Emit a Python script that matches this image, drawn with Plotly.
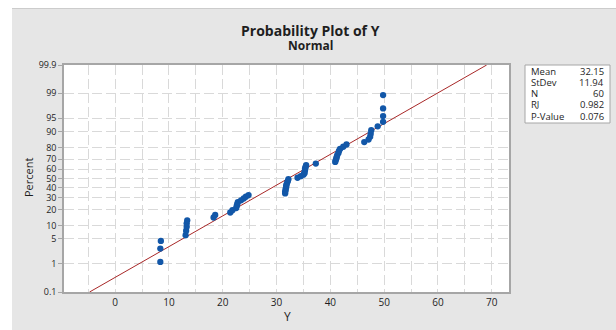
import plotly.graph_objects as go
from statistics import NormalDist

Y_VALUES = [
    8.4, 8.4, 8.5,
    13.1, 13.2, 13.3, 13.3, 13.4,
    18.3, 18.6,
    21.4, 21.8, 22.5, 22.6, 22.7, 22.8, 23.4, 23.9, 24.3, 24.8,
    31.6, 31.6, 31.7, 31.7, 31.8, 31.8, 31.9, 32.0, 32.1, 32.2,
    33.9, 34.5, 35.0, 35.2, 35.2, 35.3, 35.3, 35.4, 35.5,
    37.3,
    40.9, 41.0, 41.1, 41.2, 41.3, 41.5, 41.6, 41.8, 42.4, 43.0,
    46.3, 47.1, 47.4, 47.5, 47.6, 48.8,
    49.8, 49.8, 49.8, 49.8,
]
MEAN = 32.15
STDEV = 11.94
N = 60
RJ = 0.982
P_VALUE = 0.076

PCT_TICKS = [0.1, 1, 5, 10, 20, 30, 40, 50, 60, 70, 80, 90, 95, 99, 99.9]
PCT_LABELS = ["0.1", "1", "5", "10", "20", "30", "40", "50", "60", "70",
              "80", "90", "95", "99", "99.9"]
X_TICKS = [-5, 0, 5, 10, 15, 20, 25, 30, 35, 40, 45, 50, 55, 60, 65, 70]
X_LABELS = ["", "0", "", "10", "", "20", "", "30", "", "40", "", "50", "", "60", "", "70"]

STAT_NAMES = ["Mean", "StDev", "N", "RJ", "P-Value"]
STAT_VALUES = [f"{MEAN:.2f}", f"{STDEV:.2f}", f"{N}", f"{RJ:.3f}", f"{P_VALUE:.3f}"]

nd = NormalDist()
n = len(Y_VALUES)
# Median-rank (Benard) plotting positions -> normal scores
z_points = [nd.inv_cdf((i - 0.3) / (n + 0.4)) for i in range(1, n + 1)]
z_ticks = [nd.inv_cdf(p / 100.0) for p in PCT_TICKS]
z_lo, z_hi = z_ticks[0], z_ticks[-1]

W, H = 616, 330
L, R, T, B = 64, 107, 65, 38
PW, PH = W - L - R, H - T - B

def px(x):
    return (x - L) / PW

def py(y):
    return (H - B - y) / PH

BG = "#e6e6e6"
GRID = "#d9d9d9"
FRAME = "#a6a6a6"
FONT = "Open Sans"
TXT = "#1e1e1e"

fig = go.Figure()
fig.add_trace(go.Scatter(
    x=[MEAN + STDEV * z_lo, MEAN + STDEV * z_hi], y=[z_lo, z_hi],
    mode="lines", line=dict(color="#a82828", width=1), hoverinfo="skip",
    showlegend=False))
fig.add_trace(go.Scatter(
    x=Y_VALUES, y=z_points, mode="markers",
    marker=dict(color="#1257a8", size=6.3), showlegend=False))

fig.update_layout(
    width=W, height=H,
    margin=dict(l=L, r=R, t=T, b=B),
    paper_bgcolor=BG, plot_bgcolor="white",
    font=dict(family=FONT, color=TXT, size=10),
    xaxis=dict(
        range=[-9.5, 73.2], tickvals=X_TICKS, ticktext=X_LABELS,
        showgrid=True, gridcolor=GRID, gridwidth=1, griddash="10px,4px",
        showline=True, linecolor=FRAME, linewidth=1.5, mirror=True,
        ticks="", zeroline=False,
        tickfont=dict(family=FONT, size=10, color=TXT),
    ),
    yaxis=dict(
        range=[z_lo, z_hi], tickvals=z_ticks, ticktext=PCT_LABELS,
        showgrid=True, gridcolor=GRID, gridwidth=1, griddash="10px,4px",
        showline=True, linecolor=FRAME, linewidth=1.5, mirror=True,
        ticks="outside", ticklen=4, tickcolor=FRAME, zeroline=False,
        tickfont=dict(family=FONT, size=9, color=TXT),
    ),
    shapes=[
        dict(type="rect", xref="paper", yref="paper", x0=px(-5), x1=px(12),
             y0=py(H + 5), y1=py(-5), fillcolor="white", line=dict(width=0)),
        dict(type="rect", xref="paper", yref="paper", x0=px(-5), x1=px(W + 5),
             y0=py(8), y1=py(-5), fillcolor="white", line=dict(width=0)),
        dict(type="line", xref="paper", yref="paper", x0=px(12), x1=px(W + 5),
             y0=py(8.5), y1=py(8.5), line=dict(color="#cccccc", width=1)),
        dict(type="rect", xref="paper", yref="paper", x0=px(525), x1=px(610),
             y0=py(123), y1=py(65), fillcolor="white",
             line=dict(color="#a6a6a6", width=1)),
    ],
)

ann = [
    dict(text="<b>Probability Plot of Y</b>", x=px(310), y=py(31),
         font=dict(size=14)),
    dict(text="<b>Normal</b>", x=px(310), y=py(45), font=dict(size=12)),
    dict(text="Percent", x=px(28), y=py(178), textangle=-90, font=dict(size=11)),
    dict(text="Y", x=px(287), y=py(316), font=dict(size=12)),
]
for k, (nm, val) in enumerate(zip(STAT_NAMES, STAT_VALUES)):
    yy = py(71 + k * 11.3)
    ann.append(dict(text=nm, x=px(529), y=yy, xanchor="left", font=dict(size=9.5)))
    ann.append(dict(text=val, x=px(606), y=yy, xanchor="right", font=dict(size=9.5)))
for a in ann:
    a.setdefault("xanchor", "center")
    a.update(xref="paper", yref="paper", yanchor="middle", showarrow=False)
    a["font"].update(family=FONT, color=TXT)
fig.update_layout(annotations=ann)

fig.write_html(
    "out.html",
    config={"displayModeBar": False},
    post_script="document.body.style.margin='0';document.body.style.overflow='hidden';",
)
